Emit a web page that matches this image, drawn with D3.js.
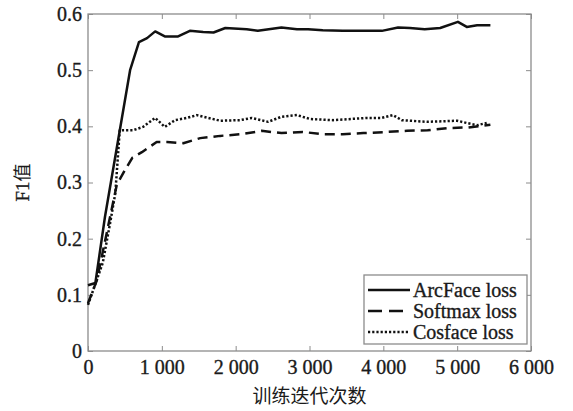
<!DOCTYPE html>
<html>
<head>
<meta charset="utf-8">
<script src="https://cdn.jsdelivr.net/npm/d3@7"></script>
<style>
  body { margin: 0; background: #fff; }
  svg { display: block; }
</style>
</head>
<body>
<div id="chart"></div>
<script>
// values
let arcIter = [0, 100, 230, 570, 690, 800, 910, 1040, 1220, 1380, 1560, 1700, 1860, 2150, 2300, 2620, 2830, 2980, 3180, 3450, 3820, 3980, 4200, 4360, 4560, 4770, 5010, 5130, 5270, 5450]
let arcF1 = [0.117, 0.121, 0.239, 0.50, 0.55, 0.557, 0.569, 0.56, 0.56, 0.57, 0.568, 0.567, 0.575, 0.573, 0.57, 0.576, 0.573, 0.573, 0.571, 0.57, 0.57, 0.57, 0.576, 0.575, 0.573, 0.575, 0.586, 0.577, 0.58, 0.58]

let softIter = [0, 120, 390, 500, 600, 730, 930, 1070, 1290, 1520, 1790, 2080, 2350, 2620, 2910, 3180, 3450, 3730, 4050, 4320, 4600, 4880, 5150, 5450]
let softF1 = [0.085, 0.126, 0.296, 0.322, 0.344, 0.354, 0.372, 0.372, 0.37, 0.379, 0.383, 0.386, 0.392, 0.388, 0.39, 0.386, 0.386, 0.388, 0.39, 0.392, 0.393, 0.397, 0.398, 0.403]

let cosIter = [0, 200, 300, 370, 430, 610, 745, 910, 1040, 1180, 1340, 1475, 1630, 1790, 2060, 2220, 2440, 2620, 2830, 3010, 3320, 3780, 3980, 4130, 4250, 4590, 5000, 5130, 5270, 5400]
let cosF1 = [0.082, 0.157, 0.228, 0.281, 0.393, 0.393, 0.399, 0.415, 0.399, 0.411, 0.415, 0.42, 0.415, 0.41, 0.411, 0.415, 0.408, 0.417, 0.42, 0.413, 0.411, 0.415, 0.415, 0.42, 0.411, 0.408, 0.41, 0.406, 0.402, 0.406]

let seriesNames = ["ArcFace loss", "Softmax loss", "Cosface loss"]
let xTicks = [0, 1000, 2000, 3000, 4000, 5000, 6000]
let yTicks = [0, 0.1, 0.2, 0.3, 0.4, 0.5, 0.6]
let xTitle = "训练迭代次数"
let yTitle = ["F1", "值"]

let width = 573, height = 411
let margin = {left: 88, top: 14, right: 42, bottom: 60}
let w = width - margin.left - margin.right
let h = height - margin.top - margin.bottom
let axisColor = "#8c8c8c"
let textColor = "#1a1a1a"
let serif = "'Times New Roman', 'Liberation Serif', 'DejaVu Serif', serif"

let svg = d3.select("#chart").append("svg")
	.attr("width", width)
	.attr("height", height)

let g = svg.append("g").attr("transform", `translate(${margin.left},${margin.top})`)

let xScale = d3.scaleLinear().domain([0, 6000]).range([0, w])
let yScale = d3.scaleLinear().domain([0, 0.6]).range([h, 0])

let loc = d3.formatLocale({decimal: ".", thousands: " ", grouping: [3], currency: ["", ""]})
let fmtX = loc.format(",d")

// a little stroke makes the text as dark as the scanned original
function heavy(sel) {
	sel.attr("fill", textColor).attr("stroke", textColor).attr("stroke-width", 0.35)
}

function styleAxis(sel) {
	sel.select(".domain").remove()
	sel.attr("font-family", null).attr("font-size", null)
	sel.selectAll(".tick line").attr("stroke", axisColor).attr("stroke-width", 1)
	sel.selectAll(".tick text")
		.style("font-family", serif)
		.style("font-size", "20px")
		.call(heavy)
}

g.append("g").attr("transform", `translate(0,${h})`)
	.call(d3.axisBottom(xScale).tickValues(xTicks).tickFormat(fmtX).tickSizeInner(-5).tickPadding(9))
	.call(styleAxis)
g.append("g")
	.call(d3.axisTop(xScale).tickValues(xTicks).tickFormat("").tickSizeInner(-5))
	.call(styleAxis)
g.append("g")
	.call(d3.axisLeft(yScale).tickValues(yTicks).tickFormat(d => d === 0 ? "0" : d3.format(".1f")(d)).tickSizeInner(-5).tickPadding(6))
	.call(styleAxis)
g.append("g").attr("transform", `translate(${w},0)`)
	.call(d3.axisRight(yScale).tickValues(yTicks).tickFormat("").tickSizeInner(-5))
	.call(styleAxis)

// box
g.append("rect")
	.attr("width", w).attr("height", h)
	.attr("fill", "none").attr("stroke", axisColor).attr("stroke-width", 1.3)

let line = d3.line().x(d => xScale(d[0])).y(d => yScale(d[1]))

let styles = [
	{dash: null},
	{dash: "10,6"},
	{dash: "2.2,2"}
]
let series = [
	d3.zip(arcIter, arcF1),
	d3.zip(softIter, softF1),
	d3.zip(cosIter, cosF1)
]

g.selectAll("path.series")
	.data(series)
	.enter()
	.append("path")
	.classed("series", true)
	.attr("d", line)
	.attr("fill", "none")
	.attr("stroke", "#111")
	.attr("stroke-width", 2.5)
	.attr("stroke-linejoin", "round")
	.attr("stroke-dasharray", (d, i) => styles[i].dash)

// legend
let lg = g.append("g").attr("transform", `translate(${364 - margin.left},${275 - margin.top})`)
lg.append("rect")
	.attr("width", 163).attr("height", 69)
	.attr("fill", "#fff").attr("stroke", axisColor).attr("stroke-width", 1.3)

let item = lg.selectAll("g.item")
	.data(seriesNames)
	.enter()
	.append("g")
	.classed("item", true)
	.attr("transform", (d, i) => `translate(0,${15 + i * 21})`)

item.append("line")
	.attr("x1", 4).attr("x2", 46)
	.attr("stroke", "#111").attr("stroke-width", 2.5)
	.attr("stroke-dasharray", (d, i) => i === 1 ? "14,7" : styles[i].dash)

item.append("text")
	.attr("x", 49).attr("y", 6.5)
	.style("font-family", serif)
	.style("font-size", "20px")
	.call(heavy)
	.text(d => d)

// axis titles
svg.append("text")
	.attr("x", margin.left + w / 2).attr("y", 403)
	.attr("text-anchor", "middle")
	.style("font-family", "'Noto Sans CJK SC', sans-serif")
	.style("font-size", "19px")
	.attr("fill", textColor)
	.text(xTitle)

let yt = svg.append("text")
	.attr("transform", `translate(29,${margin.top + h / 2}) rotate(-90)`)
	.attr("text-anchor", "middle")
	.attr("fill", textColor)
yt.append("tspan").style("font-family", serif).style("font-size", "19px").call(heavy).text(yTitle[0])
yt.append("tspan").style("font-family", "'Noto Sans CJK SC', sans-serif").style("font-size", "18px").text(yTitle[1])
</script>
</body>
</html>
